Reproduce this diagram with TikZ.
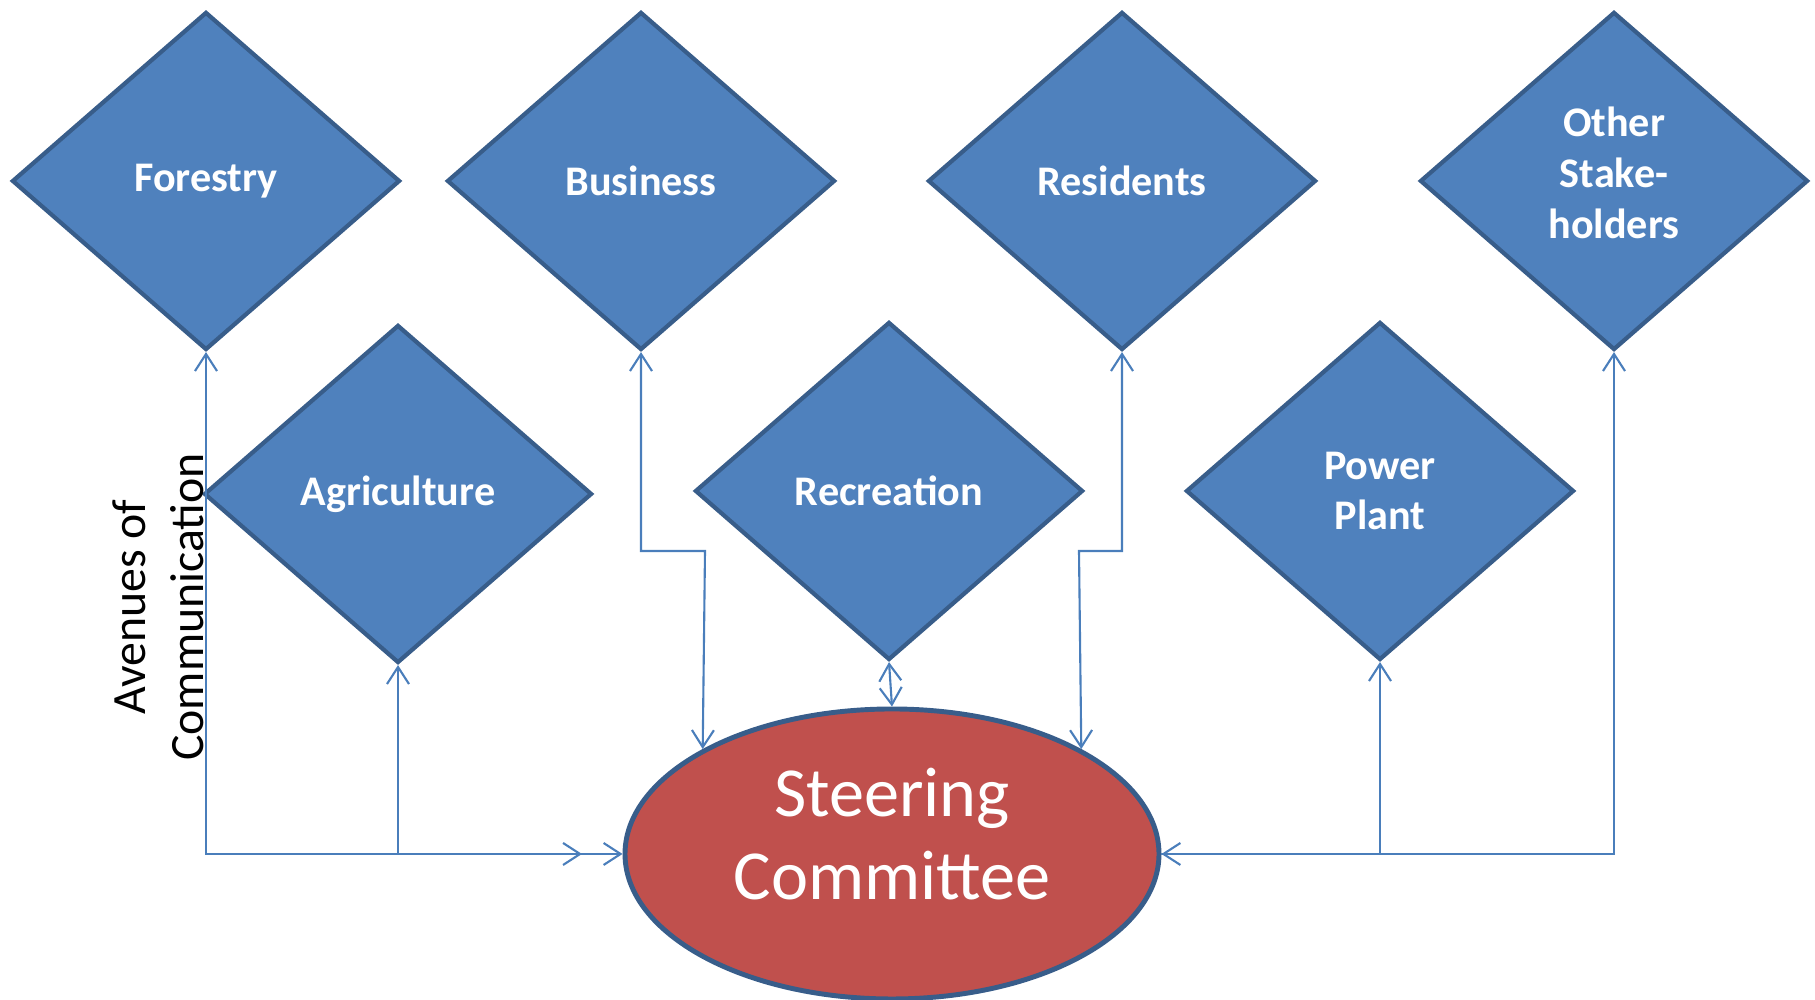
\documentclass[tikz,border=0pt]{standalone}
\usepackage{fontspec}
\setmainfont{Carlito}
\usetikzlibrary{shapes.geometric,arrows.meta}
\definecolor{stakefill}{HTML}{4F81BD}
\definecolor{stakeline}{HTML}{385D8A}
\definecolor{steerfill}{HTML}{C0504D}
\definecolor{linkblue}{HTML}{4A7EBB}

\begin{document}
\begin{tikzpicture}[align=center]
\tikzstyle{stake} = [diamond, minimum width=3.88cm, minimum height=3.38cm, inner sep=0pt, fill=stakefill, draw=stakeline, line width=1.2pt, text=white, font=\fontsize{12}{14.5}\selectfont\bfseries]
\tikzstyle{steer} = [ellipse, minimum width=5.34cm, minimum height=2.9cm, fill=steerfill, draw=stakeline, line width=1.4pt, text=white, text depth=0.4cm, font=\fontsize{20}{23.5}\selectfont]
\tikzstyle{link} = [draw=linkblue, line width=0.6pt, >={Straight Barb[length=1.7mm,width=2.2mm]}]
\useasboundingbox (0,0) rectangle (18.15,10);
    \path
        (2.06, 8.19) node[stake] (forestry) {Forestry}
        (6.41, 8.19) node[stake] (business) {Business}
        (11.22, 8.19) node[stake] (residents) {Residents}
        (16.14, 8.19) node[stake, text depth=0.16cm] (other) {Other\\Stake-\\holders}
        (3.98, 5.06) node[stake] (agri) {Agriculture}
        (8.89, 5.09) node[stake] (recreation) {Recreation}
        (13.80, 5.09) node[stake] (power) {Power\\Plant}
        (8.92, 1.46) node[steer] (committee) {Steering\\Committee}
        (1.58, 3.93) node[rotate=90, font=\fontsize{13.6}{16.5}\selectfont] (avenues) {Avenues of\\Communication};

    \coordinate (agrihead) at (5.82, 1.46);
    \coordinate (bizturn) at (7.05, 4.49);
    \coordinate (resturn) at (10.79, 4.49);

        \draw [link, <->] (forestry.south) |- (committee.west);
        \draw [link, <->] (agri.south) |- (agrihead);
        \draw [link, <->] (business.south) |- (bizturn) -- (committee.151);
        \draw [link, <->] (recreation.south) -- (committee.north);
        \draw [link, <->] (residents.south) |- (resturn) -- (committee.29);
        \draw [link, <->] (power.south) |- (committee.east);
        \draw [link, <-] (other.south) |- (committee.east);
\end{tikzpicture}
\end{document}
